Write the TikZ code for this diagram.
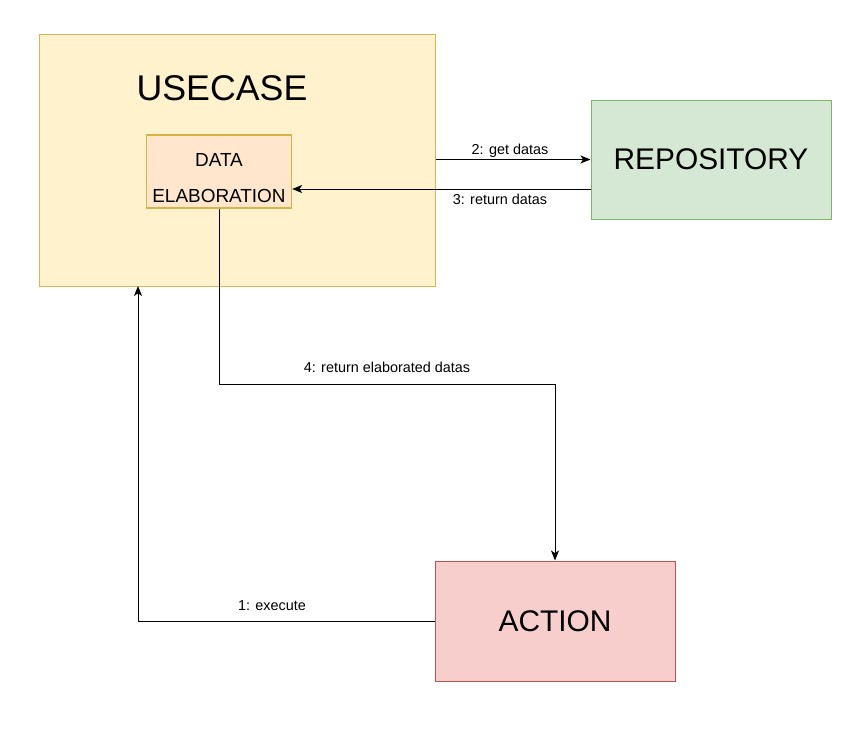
\documentclass[tikz,border=0pt]{standalone}
\usepackage{fontspec}
\setmainfont{Liberation Sans}
\usetikzlibrary{arrows.meta,calc}
\definecolor{ucfill}{HTML}{FFF2CC}
\definecolor{ucdraw}{HTML}{D6B656}
\definecolor{defill}{HTML}{FFE6CC}
\definecolor{dedraw}{HTML}{D9B24A}
\definecolor{repofill}{HTML}{D5E8D4}
\definecolor{repodraw}{HTML}{82B366}
\definecolor{actfill}{HTML}{F8CECC}
\definecolor{actdraw}{HTML}{B85450}
\tikzset{
  box/.style={draw, line width=0.75pt, inner sep=0pt, align=center},
  conn/.style={line width=0.75pt, -{Stealth[length=7.5pt,width=6pt,inset=2pt]}},
  lbl/.style={font=\fontsize{10.8pt}{12pt}\selectfont, inner sep=0pt}
}
\begin{document}
\begin{tikzpicture}[x=0.75pt,y=-0.75pt]
\useasboundingbox (0,0) rectangle (868,743);
\node[box, fill=ucfill, draw=ucdraw, minimum width=297pt, minimum height=189pt] (usecase) at (237,160) {};
\node[font=\fontsize{26.8pt}{30pt}\selectfont, inner sep=0pt] (uctitle) at (222,88) {USECASE};
\node[box, fill=defill, draw=dedraw, line width=1pt, minimum width=108.75pt, minimum height=54.75pt] (data) at (219,171.5) {};
\node[font=\fontsize{14.2pt}{27pt}\selectfont, align=center, inner sep=0pt] (datatext) at (219,178) {DATA\\ELABORATION};
\node[box, fill=repofill, draw=repodraw, minimum width=180pt, minimum height=89.25pt,
      font=\fontsize{22.4pt}{26pt}\selectfont] (repo) at (711,159.5) {REPOSITORY};
\node[box, fill=actfill, draw=actdraw, minimum width=180pt, minimum height=90pt,
      font=\fontsize{22.4pt}{26pt}\selectfont] (action) at (555,621) {ACTION};
\coordinate (ucin) at (138,286);
% 2: get datas
\draw[conn] (usecase.east |- repo.west) -- (repo.west);
\node[lbl] (l2) at (510,151) {2: get datas};
% 3: return datas
\draw[conn] ($(repo.west)+(0,29.5)$) -- ($(data.east)+(0,17.5)$);
\node[lbl] (l3) at (500,199) {3: return datas};
% 4: return elaborated datas
\draw[conn] (data.south) -- (data.south |- 0,384) -| (action.north);
\node[lbl] (l4) at (387,367) {4: return elaborated datas};
% 1: execute
\draw[conn] (action.west) -| (ucin);
\node[lbl] (l1) at (272,606) {1: execute};
\end{tikzpicture}
\end{document}
